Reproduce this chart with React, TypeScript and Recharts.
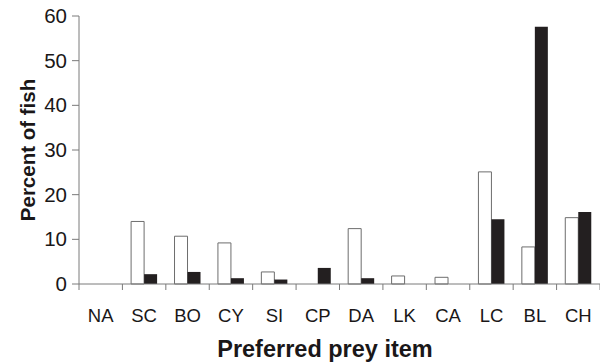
import { BarChart, Bar, XAxis, YAxis } from 'recharts';

const categories = ['NA', 'SC', 'BO', 'CY', 'SI', 'CP', 'DA', 'LK', 'CA', 'LC', 'BL', 'CH'];
const openValues = [0, 14, 10.7, 9.2, 2.7, 0, 12.4, 1.8, 1.5, 25.1, 8.3, 14.85];
const filledValues = [0, 2.2, 2.7, 1.3, 1.0, 3.6, 1.3, 0, 0, 14.5, 57.6, 16.1];
const yTicks = [0, 10, 20, 30, 40, 50, 60];

const data = categories.map((c, i) => ({
  item: c,
  open: openValues[i],
  filled: filledValues[i],
}));

const FONT = '"Liberation Sans", Arial, sans-serif';
const AXIS = '#7a7a7a';
const TEXT = '#1a1718';

// ticks sit on the category boundaries, labels in the middle
function XTick(props: any) {
  const { x, y, payload, index } = props;
  const off = payload?.offset ?? 0;
  const axisY = y - 8;
  return (
    <g>
      <line x1={x - off} y1={axisY} x2={x - off} y2={axisY + 6} stroke={AXIS} />
      {index === categories.length - 1 && (
        <line x1={x + off} y1={axisY} x2={x + off} y2={axisY + 6} stroke={AXIS} />
      )}
      <text x={x} y={y + 30} textAnchor="middle" fontSize={18.5} fill={TEXT} fontFamily={FONT}>
        {payload.value}
      </text>
    </g>
  );
}

function YTick(props: any) {
  const { x, y, payload } = props;
  return (
    <text x={x} y={y + 7} textAnchor="end" fontSize={20.5} fill={TEXT} fontFamily={FONT}>
      {payload.value}
    </text>
  );
}

export default function App() {
  return (
    <div style={{ position: 'absolute', left: 0, top: 0, width: 600, height: 364, background: '#fff' }}>
      <BarChart
        width={600}
        height={364}
        data={data}
        margin={{ top: 16, right: 0, bottom: 0, left: 0 }}
        barCategoryGap="20%"
        barGap={0}
      >
        <XAxis
          dataKey="item"
          height={80}
          interval={0}
          stroke={AXIS}
          tickLine={false}
          tickSize={6}
          tickMargin={2}
          tick={<XTick />}
          label={{
            content: () => (
              <text x={325} y={357} textAnchor="middle" fontSize={23.5} fontWeight="bold" fill={TEXT} fontFamily={FONT}>
                Preferred prey item
              </text>
            ),
          }}
        />
        <YAxis
          width={79}
          domain={[0, 60]}
          ticks={yTicks}
          interval={0}
          stroke={AXIS}
          tickSize={7}
          tickMargin={5}
          tick={<YTick />}
          label={{
            content: () => (
              <text
                x={35}
                y={150}
                transform="rotate(-90 35 150)"
                textAnchor="middle"
                fontSize={20.5}
                fontWeight="bold"
                fill={TEXT}
                fontFamily={FONT}
              >
                Percent of fish
              </text>
            ),
          }}
        />
        <Bar dataKey="open" fill="#ffffff" stroke="#6d6d6d" strokeWidth={1} isAnimationActive={false} />
        <Bar dataKey="filled" fill="#231f20" isAnimationActive={false} />
      </BarChart>
    </div>
  );
}
